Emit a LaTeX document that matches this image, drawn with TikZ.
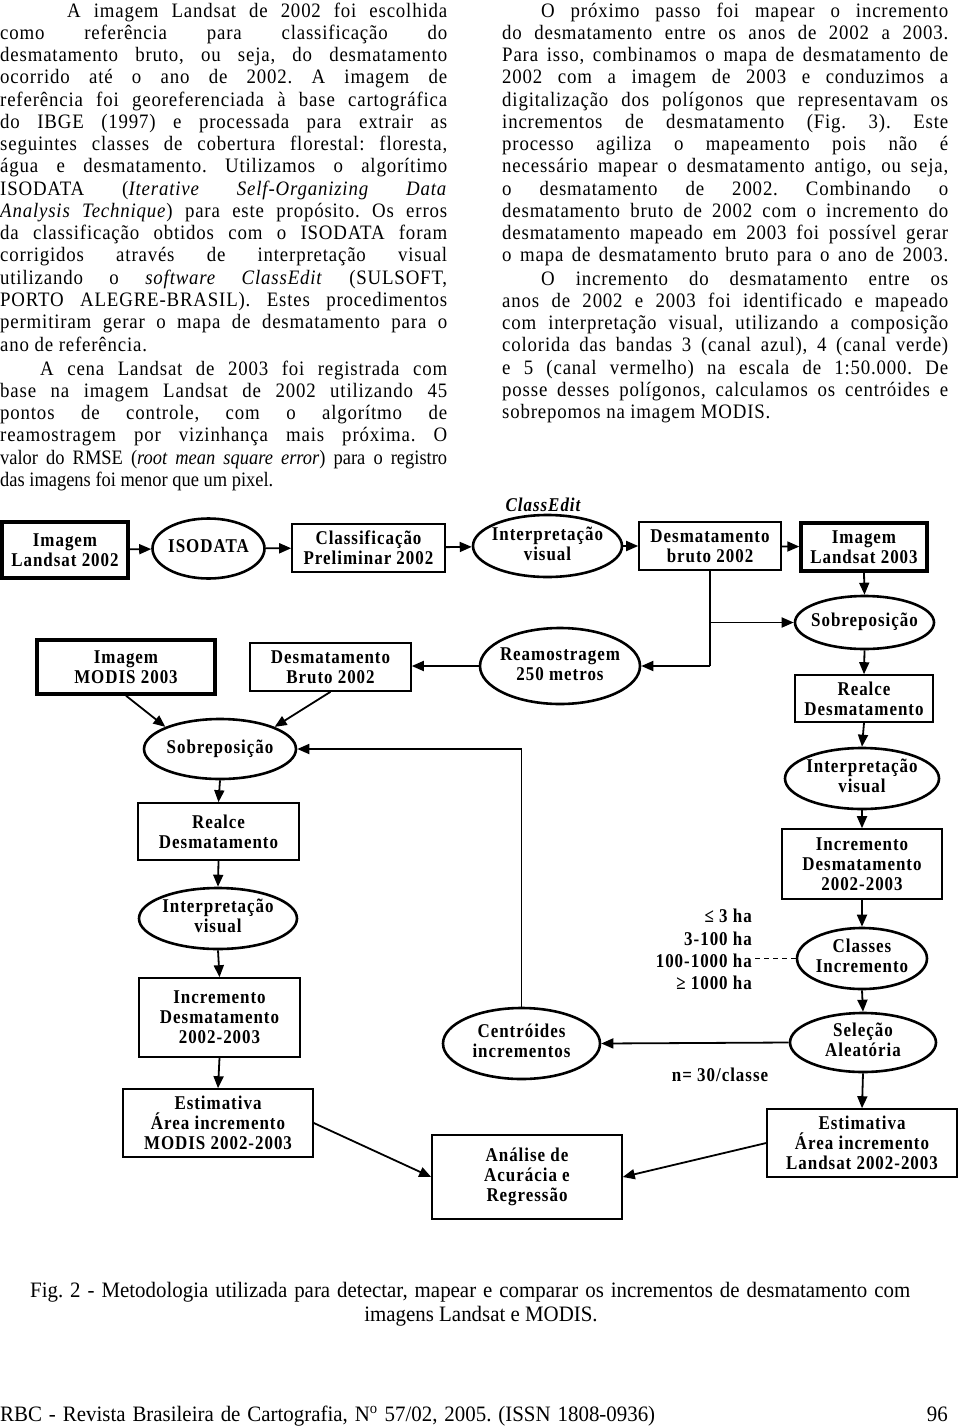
\documentclass[tikz,border=0pt]{standalone}
\usepackage{fontspec}
\setmainfont{Liberation Serif}
\newfontfamily\bodyfont[LetterSpace=4,FakeStretch=0.92]{Liberation Serif}
\newfontfamily\condfont[FakeStretch=0.9]{Liberation Serif}
\newfontfamily\capfont[FakeStretch=0.95]{Liberation Serif}
\newfontfamily\dfont[LetterSpace=5,FakeStretch=0.87]{Liberation Serif}
\usetikzlibrary{arrows.meta,shapes.geometric}
\frenchspacing
\newcommand\jl[1]{\makebox[\linewidth][s]{#1}\par}
\newcommand\lastl[1]{\makebox[\linewidth][l]{#1}\par}
\newcommand\ot[1]{\makebox[20pt]{\begin{tabular}{@{}c@{}}#1\end{tabular}}}
\newcommand\bodysetup{\bodyfont\fontsize{20.5}{22.27}\selectfont\frenchspacing\setlength\parindent{0pt}\setlength\parskip{0pt}}
\tikzset{
  txt/.style={inner sep=0pt, anchor=base west},
  dtext/.style={font=\dfont\bfseries\fontsize{19.5}{20}\selectfont},
  box/.style={dtext, draw, line width=1.6pt, inner sep=0pt, align=center},
  thickbox/.style={box, line width=3.4pt},
  oval/.style={dtext, ellipse, draw, line width=2.6pt, inner sep=0pt},
  arr/.style={line width=1.8pt, -{Triangle[length=12pt,width=10pt]}},
  link/.style={line width=1.8pt},
  captext/.style={font=\capfont\fontsize{22}{24}\selectfont}
}
\begin{document}
\begin{tikzpicture}[x=1pt,y=-1pt]
\fill[white] (0,0) rectangle (960,1427);
\useasboundingbox (0,0) rectangle (960,1427);

% ---------- body text, left column
\node[txt] (pa) at (0,17) {\begin{minipage}[t]{447pt}\bodysetup
\jl{\hspace*{67pt}A imagem Landsat de 2002 foi escolhida}
\jl{como referência para classificação do}
\jl{desmatamento bruto, ou seja, do desmatamento}
\jl{ocorrido até o ano de 2002. A imagem de}
\jl{referência foi georeferenciada à base cartográfica}
\jl{do IBGE (1997) e processada para extrair as}
\jl{seguintes classes de cobertura florestal: floresta,}
\jl{água e desmatamento. Utilizamos o algorítimo}
\jl{ISODATA (\textit{Iterative Self-Organizing Data}}
\jl{\textit{Analysis Technique}) para este propósito. Os erros}
\jl{da classificação obtidos com o ISODATA foram}
\jl{corrigidos através de interpretação visual}
\jl{utilizando o \textit{software ClassEdit} (SULSOFT,}
\jl{PORTO ALEGRE-BRASIL). Estes procedimentos}
\jl{permitiram gerar o mapa de desmatamento para o}
\lastl{ano de referência.}
\end{minipage}};
\node[txt] (pb) at (0,375) {\begin{minipage}[t]{447pt}\bodysetup
\jl{\hspace*{40pt}A cena Landsat de 2003 foi registrada com}
\jl{base na imagem Landsat de 2002 utilizando 45}
\jl{pontos de controle, com o algorítmo de}
\jl{reamostragem por vizinhança mais próxima. O}
{\condfont\fontsize{20.5}{22.27}\selectfont
\jl{valor do RMSE (\textit{root mean square error}) para o registro}
\lastl{das imagens foi menor que um pixel.}}
\end{minipage}};

% ---------- body text, right column
\node[txt] (pc) at (502,17) {\begin{minipage}[t]{446pt}\bodysetup
\jl{\hspace*{39pt}O próximo passo foi mapear o incremento}
\jl{do desmatamento entre os anos de 2002 a 2003.}
\jl{Para isso, combinamos o mapa de desmatamento de}
\jl{2002 com a imagem de 2003 e conduzimos a}
\jl{digitalização dos polígonos que representavam os}
\jl{incrementos de desmatamento (Fig. 3). Este}
\jl{processo agiliza o mapeamento pois não é}
\jl{necessário mapear o desmatamento antigo, ou seja,}
\jl{o desmatamento de 2002. Combinando o}
\jl{desmatamento bruto de 2002 com o incremento do}
\jl{desmatamento mapeado em 2003 foi possível gerar}
\jl{o mapa de desmatamento bruto para o ano de 2003.}
\end{minipage}};
\node[txt] (pd) at (502,285) {\begin{minipage}[t]{446pt}\bodysetup
\jl{\hspace*{39pt}O incremento do desmatamento entre os}
\jl{anos de 2002 e 2003 foi identificado e mapeado}
\jl{com interpretação visual, utilizando a composição}
\jl{colorida das bandas 3 (canal azul), 4 (canal verde)}
\jl{e 5 (canal vermelho) na escala de 1:50.000. De}
\jl{posse desses polígonos, calculamos os centróides e}
\lastl{sobrepomos na imagem MODIS.}
\end{minipage}};

% ---------- diagram, top row
\node[thickbox, minimum width=126pt, minimum height=56pt] (L02) at (65,550) {Imagem\\Landsat 2002};
\node[oval, minimum width=112pt, minimum height=60pt] (ISO) at (208.5,548.5) {\ot{ISODATA}};
\node[box, minimum width=153pt, minimum height=48pt] (CP) at (368.5,548) {Classificação\\Preliminar 2002};
\node[oval, minimum width=149pt, minimum height=62pt] (IV1) at (547.5,546) {\ot{Interpretação\\visual}};
\node[dtext, font=\dfont\bfseries\itshape\fontsize{19.5}{20}\selectfont] (CE) at (543,505) {ClassEdit};
\node[box, minimum width=142pt, minimum height=48pt] (DB02) at (710,546) {Desmatamento\\bruto 2002};
\node[thickbox, minimum width=126pt, minimum height=48pt] (L03) at (864,547) {Imagem\\Landsat 2003};

% ---------- right column
\node[oval, minimum width=139pt, minimum height=53pt] (SOB2) at (864.5,622.5) {\ot{Sobreposição}};
\node[box, minimum width=138pt, minimum height=47pt] (RD2) at (864,698.5) {Realce\\Desmatamento};
\node[oval, minimum width=154pt, minimum height=61pt] (IV3) at (862,778.5) {\ot{Interpretação\\visual}};
\node[box, minimum width=160pt, minimum height=70pt] (INC2) at (862,864) {Incremento\\Desmatamento\\2002-2003};
\node[oval, minimum width=130pt, minimum height=61pt] (CL) at (862,958.5) {\ot{Classes\\Incremento}};
\node[oval, minimum width=146pt, minimum height=59pt] (SEL) at (863,1042.5) {\ot{Seleção\\Aleatória}};
\node[box, minimum width=190pt, minimum height=68pt] (EL) at (862,1143) {Estimativa\\Área incremento\\Landsat 2002-2003};
\node[dtext, anchor=east, align=right, font=\dfont\bfseries\fontsize{19.5}{22.3}\selectfont, inner sep=0pt] (ha) at (752,949.5) {≤ 3 ha\\3-100 ha\\100-1000 ha\\≥ 1000 ha};
\node[dtext] (n30) at (720,1075) {n= 30/classe};

% ---------- middle
\node[oval, minimum width=160pt, minimum height=76pt] (REA) at (560,666) {\ot{Reamostragem\\250 metros}};
\node[oval, minimum width=157pt, minimum height=71pt] (CEN) at (521.5,1043.5) {\ot{Centróides\\incrementos}};
\node[box, minimum width=190pt, minimum height=84pt] (AN) at (527,1177) {Análise de\\Acurácia e\\Regressão};

% ---------- left column
\node[thickbox, minimum width=178pt, minimum height=54pt] (MOD) at (126,667) {Imagem\\MODIS 2003};
\node[box, minimum width=161pt, minimum height=48pt] (DBB) at (330.5,667) {Desmatamento\\Bruto 2002};
\node[oval, minimum width=152pt, minimum height=60pt] (SOB1) at (220,749) {\ot{Sobreposição}};
\node[box, minimum width=161pt, minimum height=57pt] (RD1) at (218.5,831.5) {Realce\\Desmatamento};
\node[oval, minimum width=158pt, minimum height=61pt] (IV2) at (218,918.5) {\ot{Interpretação\\visual}};
\node[box, minimum width=161pt, minimum height=79pt] (INC1) at (219.5,1017.5) {Incremento\\Desmatamento\\2002-2003};
\node[box, minimum width=190pt, minimum height=68pt] (EM) at (218,1123) {Estimativa\\Área incremento\\MODIS 2002-2003};

% ---------- connectors
\draw[arr] (L02) -- (ISO);
\draw[arr] (ISO) -- (CP);
\draw[arr] (CP) -- (IV1);
\draw[arr] (IV1) -- (DB02);
\draw[arr] (DB02) -- (L03);
\draw[arr] (L03.south) -- (SOB2.north);
\draw[link] (DB02.south) -- (DB02.south |- REA.east);
\draw[arr] (DB02.south |- SOB2.west) -- (SOB2.west);
\draw[arr] (DB02.south |- REA.east) -- (REA.east);
\draw[arr] (REA.west) -- (REA.west -| DBB.east);
\draw[arr] (MOD.south) -- (SOB1.north west);
\draw[arr] (DBB.south) -- (SOB1.north east);
\draw[arr] (CEN.north) |- (SOB1.east);
\draw[arr] (SOB1.south) -- (RD1.north);
\draw[arr] (RD1.south) -- (IV2.north);
\draw[arr] (IV2.south) -- (INC1.north);
\draw[arr] (INC1.south) -- (EM.north);
\draw[arr] (EM.east) -- (AN.west);
\draw[arr] (EL.west) -- (AN.east);
\draw[arr] (SOB2.south) -- (RD2.north);
\draw[arr] (RD2.south) -- (IV3.north);
\draw[arr] (IV3.south) -- (INC2.north);
\draw[arr] (INC2.south) -- (CL.north);
\draw[arr] (CL.south) -- (SEL.north);
\draw[arr] (SEL.south) -- (EL.north);
\draw[arr] (SEL.west) -- (CEN.east);
\draw[line width=1.4pt, dash pattern=on 5pt off 4pt] (CL.west) -- (CL.west -| ha.east);

% ---------- caption and footer
\node[txt, captext] (cap1) at (30,1297) {\makebox[880pt][s]{Fig. 2 - Metodologia utilizada para detectar, mapear e comparar os incrementos de desmatamento com}};
\node[inner sep=0pt, anchor=base, captext] (cap2) at (481,1321) {imagens Landsat e MODIS.};
\node[txt, captext] (foot) at (0,1421) {\makebox[655pt][s]{RBC - Revista Brasileira de Cartografia, N\textsuperscript{o} 57/02, 2005. (ISSN 1808-0936)}};
\node[inner sep=0pt, anchor=base east, captext] (page) at (948,1421) {96};
\end{tikzpicture}
\end{document}
